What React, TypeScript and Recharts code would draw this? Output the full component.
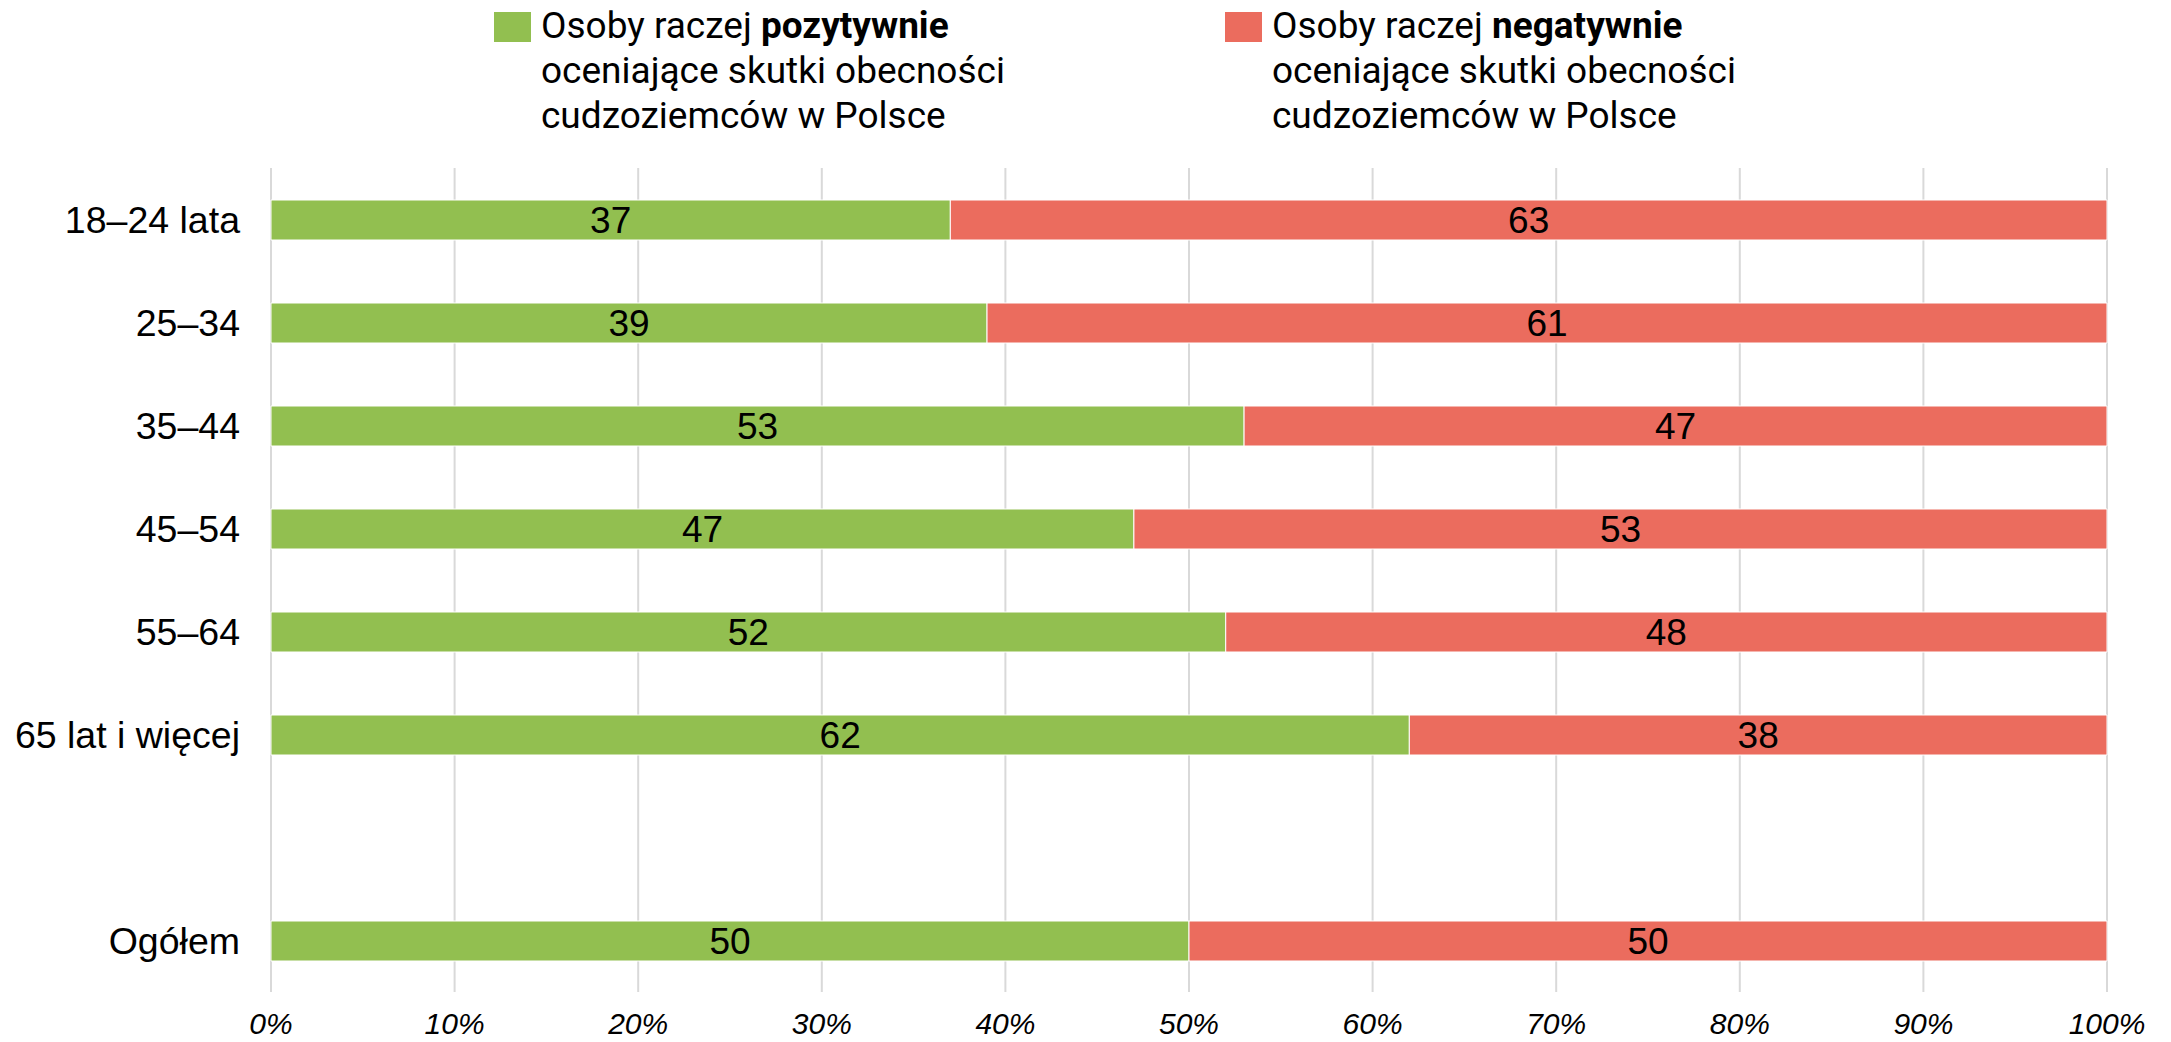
import { BarChart, Bar, XAxis, YAxis, CartesianGrid, LabelList } from 'recharts';
import { FC } from 'react';

const categories = ['18–24 lata', '25–34', '35–44', '45–54', '55–64', '65 lat i więcej', ' ', 'Ogółem'];
const positive = [37, 39, 53, 47, 52, 62, null, 50];
const negative = [63, 61, 47, 53, 48, 38, null, 50];
const xTicks = [0, 10, 20, 30, 40, 50, 60, 70, 80, 90, 100];

const GREEN = '#92bf50';
const RED = '#eb6c5e';

const data = categories.map((name, i) => ({ name, positive: positive[i], negative: negative[i] }));

const legendText = { fontFamily: 'Roboto', fontSize: 37, lineHeight: '45px', color: '#000', whiteSpace: 'nowrap' as const };

const LegendItem: FC<{ color: string; bold: string; left: number }> = ({ color, bold, left }) => (
  <div style={{ position: 'absolute', left, top: 3, display: 'flex' }}>
    <div style={{ width: 37, height: 30, background: color, marginTop: 9, marginRight: 10 }} />
    <div style={legendText}>
      Osoby raczej <b>{bold}</b>
      <br />
      oceniające skutki obecności
      <br />
      cudzoziemców w Polsce
    </div>
  </div>
);

const App: FC = () => {
  return (
    <div style={{ position: 'absolute', left: 0, top: 0, width: 2171, height: 1042, background: '#fff' }}>
      <LegendItem color={GREEN} bold="pozytywnie" left={494} />
      <LegendItem color={RED} bold="negatywnie" left={1225} />
      <div style={{ position: 'absolute', left: 0, top: 0 }}>
        <BarChart
          width={2171}
          height={1042}
          data={data}
          layout="vertical"
          margin={{ top: 168, right: 64, bottom: 0, left: 0 }}
          barSize={40}
        >
          <CartesianGrid horizontal={false} stroke="#d9d9d9" strokeWidth={2} />
          <XAxis
            type="number"
            domain={[0, 100]}
            ticks={xTicks}
            tickFormatter={(v) => `${v}%`}
            axisLine={false}
            tickLine={false}
            tickMargin={15}
            height={50}
            interval={0}
            tick={{ fill: '#000', fontSize: 30, fontStyle: 'italic', fontFamily: 'Liberation Sans' }}
          />
          <YAxis
            type="category"
            dataKey="name"
            width={271}
            axisLine={false}
            tickLine={false}
            tickMargin={25}
            interval={0}
            tick={{ fill: '#000', fontSize: 37.5, fontFamily: 'Liberation Sans' }}
          />
          <Bar dataKey="positive" stackId="a" fill={GREEN} stroke="#fff" strokeWidth={1} isAnimationActive={false}>
            <LabelList dataKey="positive" position="center" fill="#000" fontSize={37} fontFamily="Liberation Sans" />
          </Bar>
          <Bar dataKey="negative" stackId="a" fill={RED} stroke="#fff" strokeWidth={1} isAnimationActive={false}>
            <LabelList dataKey="negative" position="center" fill="#000" fontSize={37} fontFamily="Liberation Sans" />
          </Bar>
        </BarChart>
      </div>
    </div>
  );
};

export default App;
